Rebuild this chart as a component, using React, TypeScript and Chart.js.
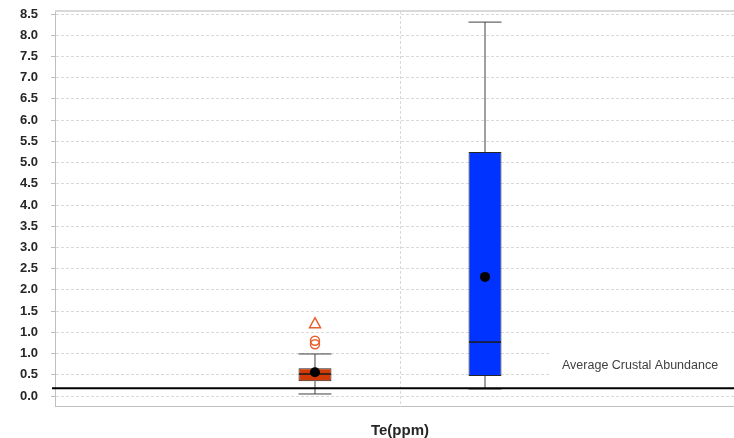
import { useEffect, useRef } from "react";
import { Chart, registerables } from "chart.js";

Chart.register(...registerables);

// ---- data ----
const categories = ["Te(ppm)"];
const seriesNames = ["Series A", "Series B"];
const boxMin = [0.045, 0.156];
const boxQ1 = [0.33, 0.445];
const boxMedian = [0.49, 1.2];
const boxQ3 = [0.62, 5.43];
const boxMax = [0.935, 8.32];
const boxMean = [0.53, 2.65];
const circleOutliers = [[1.23, 1.15], []];
const triangleOutliers = [[1.62], []];
const crustalAbundance = 0.17;
const crustalLabel = "Average Crustal Abundance";
const yTickLabels = [
  "0.0", "0.5", "1.0", "1.0", "1.5", "2.0", "2.5", "3.0", "3.5", "4.0",
  "4.5", "5.0", "5.5", "6.0", "6.5", "7.0", "7.5", "8.0", "8.5",
];
const yTopValue = 8.5;

// ---- styles ----
const fillColors = ["#D03A05", "#0033FF"];
const outlierColor = "#E8602C";
const FONT = "'Liberation Sans', Arial, sans-serif";

const boxPlugin = {
  id: "boxExtras",
  afterDatasetsDraw(chart: any) {
    const ctx = chart.ctx;
    const ys = chart.scales.y;
    chart.data.datasets.forEach((_: any, i: number) => {
      const el = chart.getDatasetMeta(i).data[0];
      if (!el) return;
      const x = el.x;
      const w = el.width;
      const yMax = ys.getPixelForValue(boxMax[i]);
      const yMin = ys.getPixelForValue(boxMin[i]);
      const yQ1 = ys.getPixelForValue(boxQ1[i]);
      const yQ3 = ys.getPixelForValue(boxQ3[i]);
      const yMed = ys.getPixelForValue(boxMedian[i]);
      ctx.save();
      ctx.strokeStyle = "#404040";
      ctx.lineWidth = 1;
      ctx.beginPath();
      ctx.moveTo(x, yQ3);
      ctx.lineTo(x, yMax);
      ctx.moveTo(x - w / 2, yMax);
      ctx.lineTo(x + w / 2, yMax);
      ctx.moveTo(x, yQ1);
      ctx.lineTo(x, yMin);
      ctx.moveTo(x - w / 2, yMin);
      ctx.lineTo(x + w / 2, yMin);
      ctx.stroke();
      ctx.strokeStyle = "#1a1a1a";
      ctx.lineWidth = 1.5;
      ctx.beginPath();
      ctx.moveTo(x - w / 2 + 0.5, yMed);
      ctx.lineTo(x + w / 2 - 0.5, yMed);
      ctx.stroke();
      // outliers
      ctx.strokeStyle = outlierColor;
      ctx.lineWidth = 1.5;
      circleOutliers[i].forEach((v) => {
        const py = ys.getPixelForValue(v);
        ctx.beginPath();
        ctx.arc(x, py, 4.5, 0, Math.PI * 2);
        ctx.stroke();
      });
      triangleOutliers[i].forEach((v) => {
        const py = ys.getPixelForValue(v);
        ctx.beginPath();
        ctx.moveTo(x, py - 5.5);
        ctx.lineTo(x + 5.5, py + 4.5);
        ctx.lineTo(x - 5.5, py + 4.5);
        ctx.closePath();
        ctx.stroke();
      });
      // mean
      const yMean = ys.getPixelForValue(boxMean[i]);
      ctx.fillStyle = "#000000";
      ctx.beginPath();
      ctx.arc(x, yMean, 5, 0, Math.PI * 2);
      ctx.fill();
      ctx.restore();
    });

    // crustal abundance line + label
    const ca = chart.chartArea;
    const ly = ys.getPixelForValue(crustalAbundance);
    ctx.save();
    ctx.fillStyle = "#ffffff";
    ctx.fillRect(550, ly - 38, 190, 29);
    ctx.strokeStyle = "#000000";
    ctx.lineWidth = 2;
    ctx.beginPath();
    ctx.moveTo(ca.left - 3, ly);
    ctx.lineTo(chart.width, ly);
    ctx.stroke();
    ctx.fillStyle = "#404040";
    ctx.font = `12.5px ${FONT}`;
    ctx.textBaseline = "middle";
    ctx.textAlign = "left";
    ctx.fillText(crustalLabel, 562, ly - 23);
    ctx.restore();
  },
  afterDraw(chart: any) {
    const ctx = chart.ctx;
    const ca = chart.chartArea;
    ctx.save();
    ctx.strokeStyle = "#d9d9d9";
    ctx.lineWidth = 2;
    ctx.beginPath();
    ctx.moveTo(ca.left, ca.top);
    ctx.lineTo(chart.width, ca.top);
    ctx.stroke();
    ctx.restore();
  },
};

export default function App() {
  const ref = useRef<HTMLCanvasElement | null>(null);
  useEffect(() => {
    if (!ref.current) return;
    const chart = new Chart(ref.current, {
      type: "bar",
      data: {
        labels: categories,
        datasets: seriesNames.map((name, i) => ({
          label: name,
          data: [[boxQ1[i], boxQ3[i]]] as any,
          backgroundColor: fillColors[i],
          borderColor: "#262626",
          borderWidth: 1,
          borderSkipped: false,
          categoryPercentage: 0.4928,
          barPercentage: 0.194,
        })),
      },
      options: {
        responsive: false,
        animation: false,
        events: [],
        layout: { padding: { top: 11, right: 5, bottom: 0, left: 0 } },
        plugins: { legend: { display: false }, tooltip: { enabled: false } },
        scales: {
          x: {
            type: "category",
            offset: true,
            grid: {
              offset: false,
              color: "#d9d9d9",
              lineWidth: 1,
              drawTicks: false,
            },
            border: { display: true, color: "#bfbfbf", width: 1, dash: [3, 2] },
            ticks: { display: false },
            title: {
              display: true,
              text: categories[0],
              color: "#262626",
              font: { family: FONT, size: 15, weight: "bold", lineHeight: 1 },
              padding: { top: 0, bottom: 0 },
            },
            afterFit: (s: any) => {
              s.height = 32;
            },
          },
          y: {
            type: "linear",
            min: -0.2225,
            max: 8.567,
            afterBuildTicks: (s: any) => {
              s.ticks = yTickLabels.map((_, i) => ({ value: (i * yTopValue) / (yTickLabels.length - 1) }));
            },
            ticks: {
              color: "#262626",
              padding: 13,
              font: { family: FONT, size: 13, weight: "bold" },
              callback: (_v: any, i: number) => yTickLabels[i],
            },
            grid: {
              color: "#d9d9d9",
              lineWidth: 1,
              tickLength: 4,
              tickColor: "#bfbfbf",
            },
            border: { display: true, color: "#bfbfbf", width: 1, dash: [3, 2] },
            afterFit: (s: any) => {
              s.width = 55;
              s.paddingTop = 0;
              s.paddingBottom = 0;
            },
          },
        },
      },
      plugins: [boxPlugin],
    });
    return () => chart.destroy();
  }, []);
  return (
    <div
      style={{
        position: "fixed",
        left: 0,
        top: 0,
        width: 734,
        height: 438,
        overflow: "hidden",
        background: "#ffffff",
      }}
    >
      <canvas ref={ref} width={750} height={438} style={{ width: 750, height: 438, display: "block" }} />
    </div>
  );
}
